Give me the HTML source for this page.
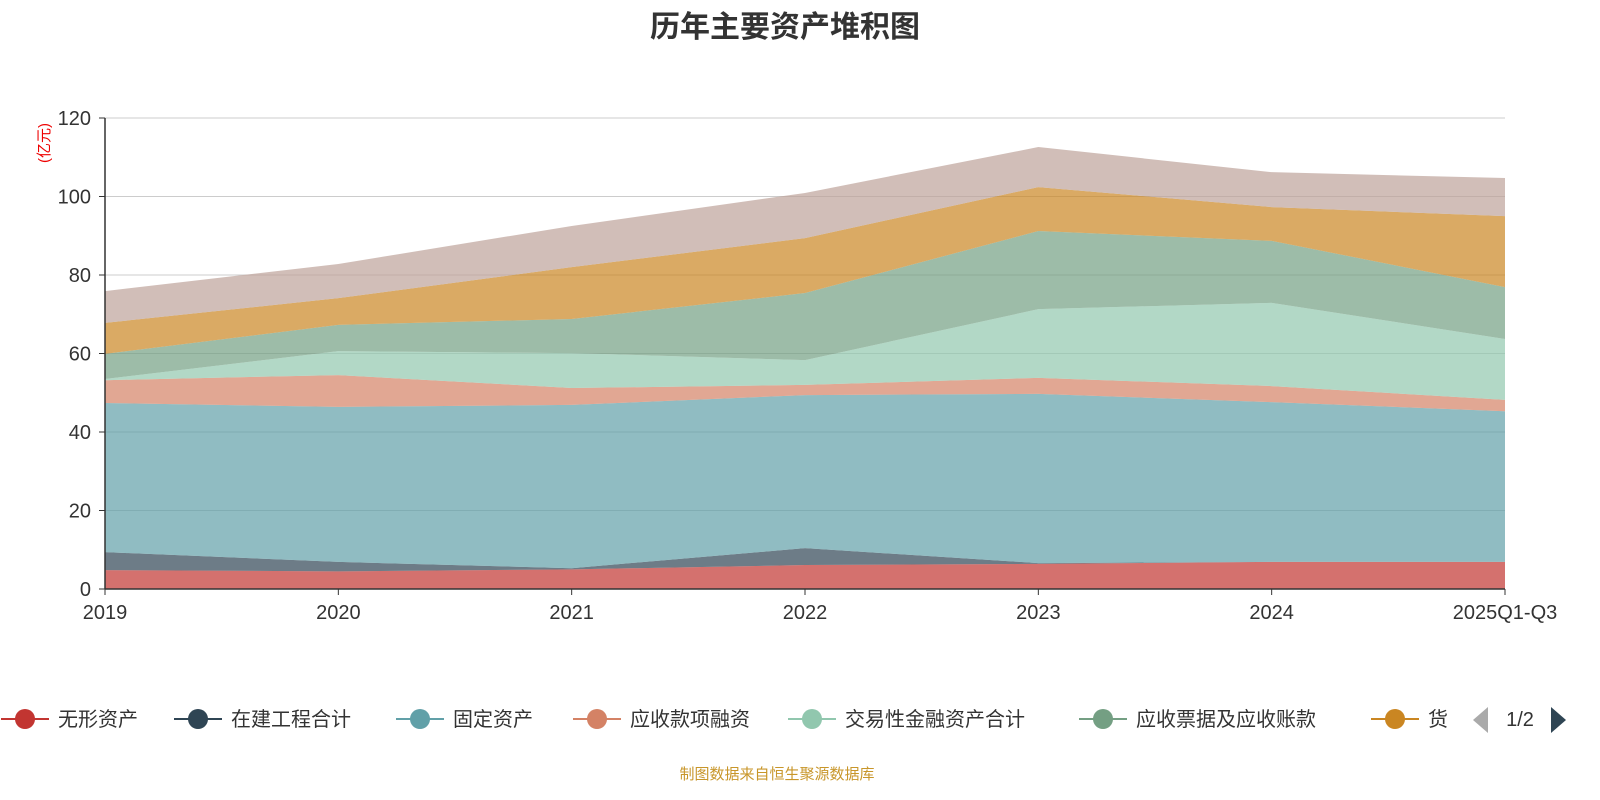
<!DOCTYPE html>
<html><head><meta charset="utf-8">
<style>
html,body{margin:0;padding:0;background:#fff;width:1600px;height:800px;overflow:hidden}
svg text{font-family:"Liberation Sans","Noto Sans CJK SC",sans-serif}
</style></head>
<body>
<svg id="chart" width="1600" height="800" viewBox="0 0 1600 800" xmlns="http://www.w3.org/2000/svg">
<text x="785" y="37" text-anchor="middle" font-size="30" font-weight="bold" fill="#333">历年主要资产堆积图</text>
<text transform="translate(49,143) rotate(-90)" text-anchor="middle" font-size="15" fill="#e00">(亿元)</text>
<g id="grid"></g><g id="areas"></g><g id="axes"></g><g id="legend"></g>
<text x="777" y="779" text-anchor="middle" font-size="15" fill="#c8962a">制图数据来自恒生聚源数据库</text>
</svg>
<script>
const categories=["2019","2020","2021","2022","2023","2024","2025Q1-Q3"];
const seriesNames=["无形资产","在建工程合计","固定资产","应收款项融资","交易性金融资产合计","应收票据及应收账款","货币资金","存货"];
const s0=[4.8,4.5,5.0,6.1,6.4,6.9,6.9];
const s1=[4.6,2.4,0.3,4.3,0.2,0.0,0.0];
const s2=[38.0,39.5,41.6,39.0,43.1,40.7,38.4];
const s3=[5.8,8.1,4.3,2.6,4.1,4.1,2.9];
const s4=[0.3,6.1,8.9,6.3,17.5,21.2,15.5];
const s5=[6.4,6.7,8.7,17.1,19.9,15.8,13.2];
const s6=[7.9,6.8,13.2,14.0,11.2,8.6,18.1];
const s7=[8.1,8.7,10.5,11.5,10.2,8.9,9.7];
const yTicks=[0,20,40,60,80,100,120];
const series=[s0,s1,s2,s3,s4,s5,s6,s7];
const colors=["#c23531","#2f4554","#61a0a8","#d48265","#91c7ae","#749f83","#ca8622","#bda29a"];
const NS="http://www.w3.org/2000/svg";
const X0=105,X1=1505,Y0=589,Y1=118,YMAX=120;
const x=i=>X0+(X1-X0)*i/(categories.length-1);
const y=v=>Y0-(Y0-Y1)*v/YMAX;
function mk(t,a,p){const e=document.createElementNS(NS,t);for(const k in a)e.setAttribute(k,a[k]);p.appendChild(e);return e;}
const grid=document.getElementById('grid'),areas=document.getElementById('areas'),axes=document.getElementById('axes'),legend=document.getElementById('legend');
yTicks.forEach(t=>{
  if(t>0){const l=mk('line',{x1:X0,x2:X1,y1:y(t),y2:y(t),stroke:'#ccc','stroke-width':1},grid);
  
  }
  const tx=mk('text',{x:X0-14,y:y(t)+7,'text-anchor':'end','font-size':20,fill:'#333'},axes);tx.textContent=t;
  
  
  const tk=mk('line',{x1:X0-6,x2:X0,y1:y(t),y2:y(t),stroke:'#333'},axes);
  
  
});
let base=categories.map(()=>0);
series.forEach((s,k)=>{
  const top=base.map((b,i)=>b+s[i]);
  let d='M'+categories.map((c,i)=>x(i)+','+y(top[i])).join('L');
  for(let i=categories.length-1;i>=0;i--)d+='L'+x(i)+','+y(base[i]);
  const p=mk('path',{d:d+'Z',fill:colors[k],'fill-opacity':0.7,stroke:'none'},areas);
  
  
  base=top;
});
const ax=mk('line',{x1:X0,x2:X1,y1:Y0,y2:Y0,stroke:'#333','stroke-width':1.5},axes);


const ay=mk('line',{x1:X0,x2:X0,y1:Y0,y2:Y1,stroke:'#333','stroke-width':1.5},axes);


categories.forEach((c,i)=>{
  const tk=mk('line',{x1:x(i),x2:x(i),y1:Y0,y2:Y0+6,stroke:'#333'},axes);
  
  
  const t=mk('text',{x:x(i),y:Y0+30,'text-anchor':'middle','font-size':20,fill:'#333'},axes);t.textContent=c;
  
  
});
const lx=[25,198,420,597,812,1103,1395];
for(let k=0;k<7;k++){
  const g=mk('g',{},legend);
  
  
  mk('line',{x1:lx[k]-24,x2:lx[k]+24,y1:719,y2:719,stroke:colors[k],'stroke-width':2},g);
  mk('circle',{cx:lx[k],cy:719,r:10,fill:colors[k]},g);
  const t=mk('text',{x:lx[k]+33,y:726,'font-size':20,fill:'#333'},g);t.textContent=k==6?'货':seriesNames[k];
}
const pv=mk('path',{d:'M1488,707L1488,733L1473,720Z',fill:'#aaa'},legend);


const pg=mk('text',{x:1520,y:726,'text-anchor':'middle','font-size':20,fill:'#333'},legend);pg.textContent='1/2';


const nx=mk('path',{d:'M1551,707L1551,733L1566,720Z',fill:'#2f4554'},legend);


</script>
</body></html>
